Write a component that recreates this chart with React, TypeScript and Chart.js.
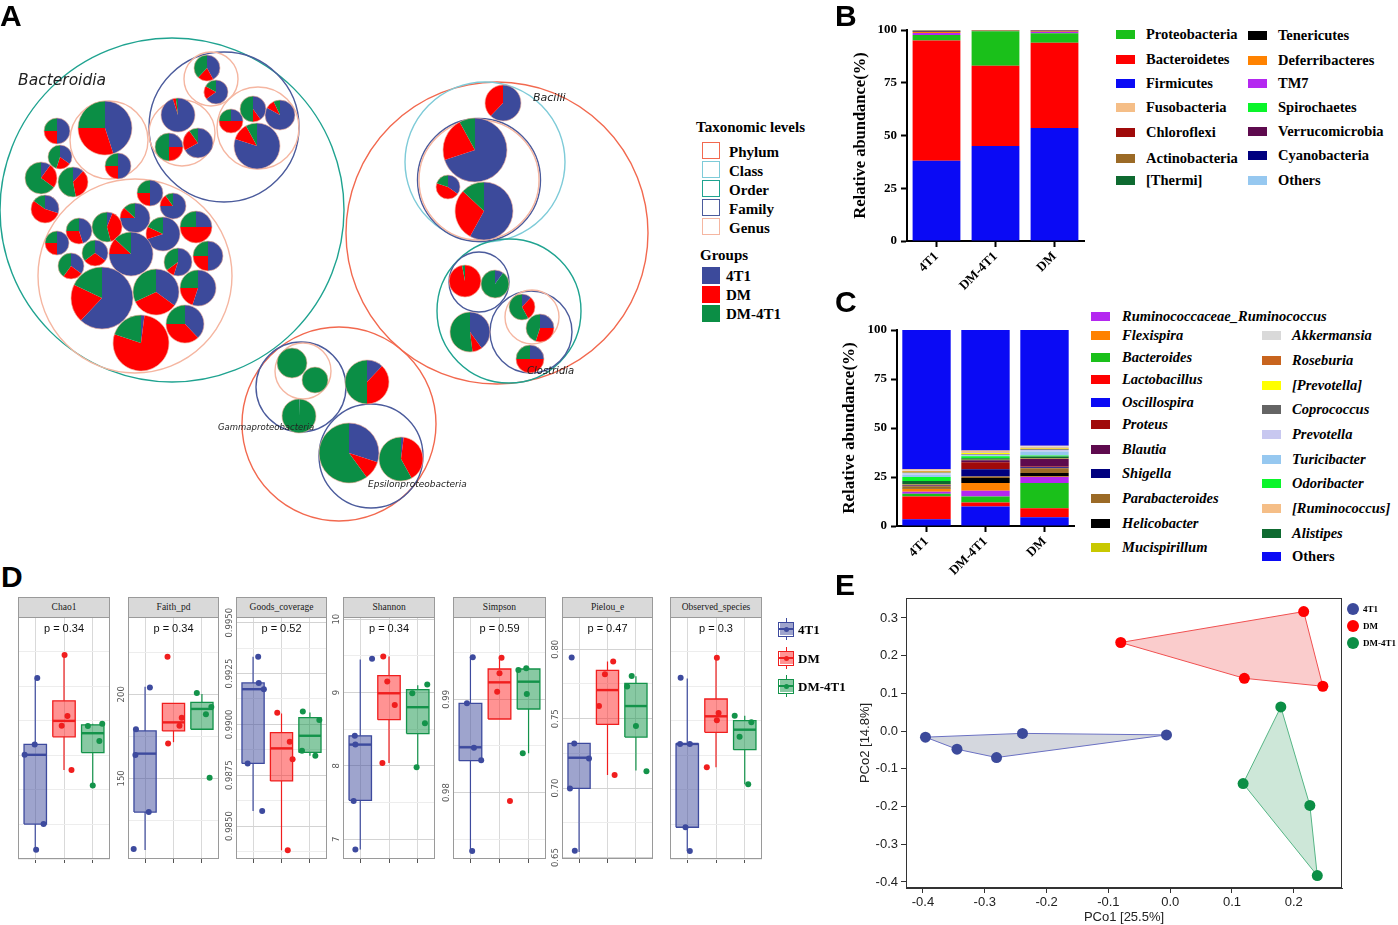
import React, { useEffect, useRef } from "react";
import { Chart, registerables } from "chart.js";

Chart.register(...registerables);

const SERIF = '"Liberation Serif", "Times New Roman", serif';
const SANS = '"Liberation Sans", Arial, sans-serif';
const DEJAVU = '"DejaVu Sans", Verdana, sans-serif';

/* ---------------- shared groups ---------------- */
const GROUPS = ["4T1", "DM", "DM-4T1"];
const GROUP_COLORS = ["#3C4A9B", "#FF0000", "#0B8E45"];

/* ---------------- Panel A : packed circles (x, y, r in chart units) ---------------- */
const A_LEVEL_NAMES = ["Phylum", "Class", "Order", "Family", "Genus"];
const A_LEVEL_COLORS = ["#F2694F", "#7ECBD8", "#1FA390", "#4B5B9C", "#F5B6A1"];
const A_PHYLUM = [[497, 233, 151], [339, 424, 97]];
const A_CLASS = [[485, 162, 80]];
const A_ORDER = [[172, 210, 172], [509, 311, 72]];
const A_FAMILY = [[224, 127, 75], [479, 282, 30], [531, 332, 41], [301, 387, 45], [371, 456, 52], [479, 180, 61.5]];
const A_GENUS = [[211, 79, 27], [182, 133, 33], [258, 128, 41], [109, 140, 39], [135, 276, 97], [479, 180, 60], [532, 317, 27], [303, 371, 28]];
const A_CIRCLES = [A_PHYLUM, A_CLASS, A_ORDER, A_FAMILY, A_GENUS];
// genus pies: x, y, r, share 4T1, share DM, share DM-4T1
const A_PIES = [
  [207, 68, 13, 0.42, 0.2, 0.38], [216, 92, 12, 0.65, 0.18, 0.17], [178, 115, 17, 0.95, 0.03, 0.02],
  [169, 147, 14, 0.25, 0.25, 0.5], [198, 143, 15, 0.67, 0.23, 0.1], [231, 121, 12, 0.25, 0.5, 0.25],
  [253, 109, 13, 0.4, 0.1, 0.5], [280, 115, 15, 0.83, 0.1, 0.07], [257, 146, 23, 0.8, 0.12, 0.08],
  [105, 128, 27, 0.45, 0.3, 0.25], [118, 166, 13, 0.5, 0.25, 0.25],
  [57, 131, 13, 0.5, 0.25, 0.25], [60, 157, 12, 0.35, 0.2, 0.45], [41, 178, 16, 0.1, 0.25, 0.65],
  [73, 182, 15, 0.12, 0.35, 0.53], [45, 209, 14, 0.3, 0.55, 0.15],
  [150, 193, 13, 0.5, 0.25, 0.25], [173, 206, 13, 0.75, 0.15, 0.1], [196, 227, 16, 0.25, 0.5, 0.25],
  [135, 218, 15, 0.75, 0.12, 0.13], [107, 227, 15, 0.06, 0.4, 0.54], [79, 231, 13, 0.45, 0.3, 0.25],
  [57, 243, 12, 0.5, 0.25, 0.25], [163, 234, 17, 0.7, 0.12, 0.18], [95, 253, 13, 0.35, 0.3, 0.35],
  [131, 254, 22, 0.75, 0.12, 0.13], [71, 266, 13, 0.35, 0.25, 0.4], [178, 262, 14, 0.55, 0.1, 0.35],
  [208, 256, 15, 0.5, 0.25, 0.25], [102, 298, 31, 0.62, 0.2, 0.18], [156, 292, 23, 0.35, 0.33, 0.32],
  [198, 288, 18, 0.55, 0.2, 0.25], [141, 343, 28, 0.02, 0.78, 0.2], [185, 324, 19, 0.38, 0.37, 0.25],
  [503, 103, 18, 0.62, 0.38, 0], [475, 150, 32, 0.7, 0.22, 0.08], [448, 187, 12, 0.35, 0.45, 0.2],
  [484, 211, 29, 0.58, 0.29, 0.13],
  [465, 281, 16, 0, 0.97, 0.03], [495, 284, 14, 0.1, 0, 0.9], [470, 332, 20, 0.4, 0.08, 0.52],
  [522, 307, 13, 0.12, 0.3, 0.58], [540, 328, 14, 0.25, 0.3, 0.45], [530, 359, 14, 0.25, 0.5, 0.25],
  [292, 363, 15, 0, 0, 1], [315, 380, 13, 0, 0, 1], [299, 416, 17, 0.005, 0, 0.995],
  [367, 382, 22, 0.12, 0.38, 0.5], [349, 453, 30, 0.3, 0.1, 0.6], [401, 459, 22, 0.02, 0.4, 0.58],
];
const A_CLASS_LABELS = ["Bacteroidia", "Bacilli", "Clostridia", "Gammaproteobacteria", "Epsilonproteobacteria"];
const A_LABEL_AT = [[18, 85], [533, 101], [527, 374], [218, 430], [368, 487]];
const A_LABEL_SIZES = [15.5, 11, 10, 8.5, 9];

/* ---------------- Panel B : phylum composition ---------------- */
const B_CATEGORIES = ["4T1", "DM-4T1", "DM"];
const B_PHYLA = ["Firmicutes", "Bacteroidetes", "Proteobacteria", "TM7", "Deferribacteres", "Verrucomicrobia", "Tenericutes", "Actinobacteria", "Fusobacteria", "Chloroflexi", "[Thermi]", "Spirochaetes", "Cyanobacteria", "Others"];
const B_VALUES = [
  [38, 45, 53.5], [57, 38, 40.5], [2.6, 16.4, 4.5], [1.0, 0.1, 0.6], [0.5, 0.1, 0.2], [0.2, 0.1, 0.4],
  [0.2, 0.05, 0.05], [0.1, 0.05, 0.05], [0.1, 0.02, 0.02], [0.05, 0.02, 0.02], [0.05, 0.02, 0.02],
  [0.05, 0.02, 0.02], [0.05, 0.02, 0.02], [0.1, 0.08, 0.1],
];
const B_COLORS: any = {
  Firmicutes: "#0A0AF5", Bacteroidetes: "#FF0000", Proteobacteria: "#1AC01A", TM7: "#B428F0",
  Deferribacteres: "#FF8200", Verrucomicrobia: "#5E0A4E", Tenericutes: "#000000", Actinobacteria: "#9B6A26",
  Fusobacteria: "#F5BE87", Chloroflexi: "#A00A0A", "[Thermi]": "#0E6A30", Spirochaetes: "#0AF52A",
  Cyanobacteria: "#00007F", Others: "#96C8F0",
};
const B_LEGEND_1 = ["Proteobacteria", "Bacteroidetes", "Firmicutes", "Fusobacteria", "Chloroflexi", "Actinobacteria", "[Thermi]"];
const B_LEGEND_2 = ["Tenericutes", "Deferribacteres", "TM7", "Spirochaetes", "Verrucomicrobia", "Cyanobacteria", "Others"];

/* ---------------- Panel C : genus composition ---------------- */
const C_CATEGORIES = ["4T1", "DM-4T1", "DM"];
const C_GENERA = ["Oscillospira", "Lactobacillus", "Bacteroides", "Ruminococcaceae_Ruminococcus", "Flexispira", "Helicobacter", "Parabacteroides", "Shigella", "Proteus", "Blautia", "Mucispirillum", "Alistipes", "Odoribacter", "Turicibacter", "Prevotella", "Coprococcus", "[Prevotella]", "Roseburia", "Akkermansia", "[Ruminococcus]", "Others"];
const C_VALUES = [
  [3.5, 10, 4.5], [11.5, 2, 4.5], [1.5, 3, 13], [1, 3, 3], [1.5, 4, 0.3], [0.3, 2.5, 1.7], [1, 0.7, 2.5],
  [0.2, 3.8, 0.5], [0.2, 3.5, 0.3], [0.3, 1, 4], [0.3, 0.3, 0.3], [1.7, 0.8, 0.8], [2, 1, 0.6],
  [1.2, 0.5, 2], [0.8, 0.3, 0.8], [0.3, 0.3, 0.3], [0.4, 0.5, 0.4], [0.3, 0.2, 0.4], [0.3, 0.3, 0.6],
  [0.6, 0.8, 0.4], [71.1, 61.5, 59.1],
];
const C_COLORS: any = {
  Oscillospira: "#0A0AF5", Lactobacillus: "#FF0000", Bacteroides: "#1AC01A", Ruminococcaceae_Ruminococcus: "#B428F0",
  Flexispira: "#FF8200", Helicobacter: "#000000", Parabacteroides: "#9B6A26", Shigella: "#00007F",
  Proteus: "#A00A0A", Blautia: "#5E0A4E", Mucispirillum: "#C8C800", Alistipes: "#0E6A30", Odoribacter: "#0AF52A",
  Turicibacter: "#96C8F0", Prevotella: "#C8C8F0", Coprococcus: "#646464", "[Prevotella]": "#FFFF00",
  Roseburia: "#C8641E", Akkermansia: "#D9D9D9", "[Ruminococcus]": "#F5BE87", Others: "#0A0AF5",
};
const C_LEGEND_1 = ["Ruminococcaceae_Ruminococcus", "Flexispira", "Bacteroides", "Lactobacillus", "Oscillospira", "Proteus", "Blautia", "Shigella", "Parabacteroides", "Helicobacter", "Mucispirillum"];
const C_LEGEND_2 = ["Akkermansia", "Roseburia", "[Prevotella]", "Coprococcus", "Prevotella", "Turicibacter", "Odoribacter", "[Ruminococcus]", "Alistipes", "Others"];

/* ---------------- Panel D : alpha diversity ---------------- */
const D_METRICS = ["Chao1", "Faith_pd", "Goods_coverage", "Shannon", "Simpson", "Pielou_e", "Observed_species"];
const D_P_VALUES = ["0.34", "0.34", "0.52", "0.34", "0.59", "0.47", "0.3"];
const D_Y_RANGES = [[1496, 4990], [102, 246], [0.98338, 0.99528], [6.73, 10.03], [0.97289, 0.99882], [0.649, 0.8232], [1304, 4650]];
const D_Y_STEPS = [[500, 1000, 0], [25, 50, 0], [0.00125, 0.0025, 4], [0.5, 1, 0], [0.005, 0.01, 2], [0.025, 0.05, 2], [500, 1000, 0]];
// per group: [lower whisker, Q1, median, Q3, upper whisker]
const CHAO1_STATS = [[1630, 2000, 3000, 3150, 4110], [2780, 3260, 3490, 3780, 4440], [2557, 3032, 3312, 3433, 3448]];
const FAITH_STATS = [[107.3, 129.9, 164.7, 178.2, 204.5], [171.5, 178.2, 183.3, 194.6, 194.6], [179.2, 179.2, 191.3, 195.2, 200.2]];
const GOODS_STATS = [[0.98574, 0.98808, 0.99173, 0.99204, 0.99333], [0.98381, 0.98722, 0.98882, 0.98959, 0.99054], [0.98846, 0.98862, 0.98944, 0.99033, 0.99059]];
const SHANNON_STATS = [[6.86, 7.53, 8.29, 8.41, 9.45], [8.04, 8.63, 8.99, 9.23, 9.49], [7.98, 8.44, 8.8, 9.04, 9.1]];
const SIMPSON_STATS = [[0.97368, 0.98343, 0.98486, 0.98957, 0.99457], [0.98789, 0.98789, 0.99182, 0.99325, 0.99446], [0.98421, 0.98896, 0.99189, 0.99325, 0.99343]];
const PIELOU_STATS = [[0.654, 0.6998, 0.7219, 0.7322, 0.7322], [0.7094, 0.7459, 0.7706, 0.7848, 0.7911], [0.7127, 0.7368, 0.7591, 0.7754, 0.7806]];
const OBSERVED_STATS = [[1413, 1743, 2895, 2895, 3800], [2571, 3055, 3277, 3516, 4087], [2339, 2815, 3092, 3217, 3286]];
// per group: samples [jittered group position, value]
const CHAO1_POINTS = [
  [[1.07, 4110], [0.98, 3150], [0.63, 3000], [1.29, 2000], [1.03, 1630]],
  [[2.02, 4440], [2.12, 3560], [1.92, 3420], [2.26, 2780]],
  [[2.83, 3418], [3.33, 3448], [3.23, 3201], [3.0, 2557]],
];
const FAITH_POINTS = [
  [[1.17, 204], [0.68, 179.2], [0.66, 163.9], [1.13, 129.9], [0.6, 107.9]],
  [[1.79, 222.4], [2.29, 186.1], [2.21, 181.3], [1.81, 170.8]],
  [[2.82, 200.8], [3.33, 192.5], [3.14, 188.1], [3.27, 150.4]],
];
const GOODS_POINTS = [
  [[1.18, 0.99333], [1.2, 0.99204], [1.38, 0.99173], [0.81, 0.98808], [1.32, 0.98574]],
  [[1.85, 0.99057], [2.29, 0.98914], [2.39, 0.98828], [2.22, 0.98381]],
  [[2.75, 0.99063], [3.33, 0.99021], [2.72, 0.9887], [3.19, 0.98846]],
];
const SHANNON_POINTS = [
  [[1.41, 9.46], [0.81, 8.41], [0.83, 8.29], [0.77, 7.52], [0.83, 6.86]],
  [[1.8, 9.49], [1.94, 9.15], [2.2, 8.83], [1.77, 8.04]],
  [[3.33, 9.11], [2.81, 8.99], [3.25, 8.58], [2.96, 7.98]],
];
const SIMPSON_POINTS = [
  [[1.08, 0.99451], [0.88, 0.98957], [1.12, 0.98482], [1.37, 0.98346], [1.06, 0.97375]],
  [[2.07, 0.99446], [2.0, 0.99279], [1.92, 0.99081], [2.36, 0.97911]],
  [[2.65, 0.99314], [2.92, 0.99332], [2.94, 0.99057], [2.8, 0.98421]],
];
const PIELOU_POINTS = [
  [[0.74, 0.794], [0.83, 0.7322], [1.35, 0.7214], [0.68, 0.6998], [0.85, 0.6549]],
  [[2.2, 0.7911], [1.91, 0.782], [1.7, 0.7591], [2.25, 0.7094]],
  [[2.85, 0.7808], [2.69, 0.7731], [3.0, 0.7447], [3.37, 0.7122]],
];
const OBSERVED_POINTS = [
  [[0.77, 3811], [0.75, 2895], [1.09, 2895], [0.94, 1743], [1.09, 1413]],
  [[2.03, 4087], [2.09, 3324], [2.03, 3222], [1.68, 2571]],
  [[2.65, 3286], [3.23, 3195], [2.82, 2993], [3.12, 2339]],
];
const D_STATS = [CHAO1_STATS, FAITH_STATS, GOODS_STATS, SHANNON_STATS, SIMPSON_STATS, PIELOU_STATS, OBSERVED_STATS];
const D_POINTS = [CHAO1_POINTS, FAITH_POINTS, GOODS_POINTS, SHANNON_POINTS, SIMPSON_POINTS, PIELOU_POINTS, OBSERVED_POINTS];

/* ---------------- Panel E : PCoA ---------------- */
const E_4T1 = [[-0.396, -0.016], [-0.239, -0.006], [-0.006, -0.01], [-0.281, -0.07], [-0.345, -0.048]];
const E_DM = [[-0.08, 0.235], [0.216, 0.317], [0.247, 0.119], [0.12, 0.14]];
const E_DM4T1 = [[0.179, 0.064], [0.226, -0.197], [0.238, -0.383], [0.118, -0.139]];
const E_GROUP_POINTS = [E_4T1, E_DM, E_DM4T1];

/* ---------------- styles & layout ---------------- */
const D_FILL = ["rgba(61,74,156,0.5)", "rgba(255,40,40,0.5)", "rgba(17,148,72,0.5)"];
const D_LINE = ["#3D4A9E", "#F01E1E", "#13934A"];
const D_FACET_X = [[18, 92], [128, 91], [236, 91], [343, 92], [453, 93], [562, 91], [670, 92]];
const E_FILL = ["rgba(170,176,190,0.5)", "rgba(240,110,110,0.35)", "rgba(90,175,125,0.3)"];
const E_LINE = ["#6A70C2", "#F05050", "#55B585"];

const BASE: any = {
  animation: false,
  responsive: false,
  events: [],
  plugins: { legend: { display: false }, tooltip: { enabled: false } },
};

function framePlugin(color: string, width: number) {
  return {
    id: "frame",
    afterDraw(chart: any) {
      const { ctx, chartArea: a } = chart;
      ctx.save();
      ctx.strokeStyle = color;
      ctx.lineWidth = width;
      ctx.strokeRect(a.left + 0.5, a.top + 0.5, a.right - a.left - 1, a.bottom - a.top - 1);
      ctx.restore();
    },
  };
}

function makeA() {
  const pies = {
    id: "pies",
    afterDatasetsDraw(chart: any) {
      const { ctx } = chart;
      const xs = chart.scales.x;
      const ys = chart.scales.y;
      const k = Math.abs(xs.getPixelForValue(1) - xs.getPixelForValue(0));
      ctx.save();
      for (const p of A_PIES) {
        const cx = xs.getPixelForValue(p[0]);
        const cy = ys.getPixelForValue(p[1]);
        const r = p[2] * k;
        const shares = p.slice(3);
        const tot = shares.reduce((s, v) => s + v, 0);
        let a0 = -Math.PI / 2;
        shares.forEach((s, i) => {
          if (s <= 0) return;
          const a1 = a0 + (s / tot) * Math.PI * 2;
          ctx.beginPath();
          ctx.moveTo(cx, cy);
          ctx.arc(cx, cy, r, a0, a1);
          ctx.closePath();
          ctx.fillStyle = GROUP_COLORS[i];
          ctx.fill();
          a0 = a1;
        });
        ctx.beginPath();
        ctx.arc(cx, cy, r, 0, Math.PI * 2);
        ctx.lineWidth = 0.7;
        ctx.strokeStyle = "rgba(240,175,155,0.9)";
        ctx.stroke();
      }
      A_CLASS_LABELS.forEach((t, i) => {
        ctx.font = `italic ${A_LABEL_SIZES[i]}px ${DEJAVU}`;
        ctx.fillStyle = "#222";
        ctx.textAlign = "left";
        ctx.textBaseline = "alphabetic";
        ctx.fillText(t, xs.getPixelForValue(A_LABEL_AT[i][0]), ys.getPixelForValue(A_LABEL_AT[i][1]));
      });
      ctx.restore();
    },
  };
  return {
    type: "bubble",
    data: {
      datasets: A_CIRCLES.map((list, li) => ({
        label: A_LEVEL_NAMES[li],
        data: list.map(([x, y, r]) => ({ x, y, r })),
        backgroundColor: "rgba(0,0,0,0)",
        borderColor: A_LEVEL_COLORS[li],
        borderWidth: 1.4,
        clip: false,
        order: 5 - li,
      })),
    },
    options: {
      ...BASE,
      layout: { padding: 0, autoPadding: false },
      scales: {
        x: { type: "linear", min: 0, max: 690, display: false },
        y: { type: "linear", min: 30, max: 535, reverse: true, display: false },
      },
    },
    plugins: [pies],
  };
}

function stackedConfig(labels: string[], names: string[], values: number[][], colors: any, opt: any) {
  const tickFont = { family: SERIF, weight: "bold", size: 13 };
  return {
    type: "bar",
    data: {
      labels,
      datasets: names.map((n, i) => ({
        label: n,
        data: values[i],
        backgroundColor: colors[n],
        borderWidth: 0,
        barPercentage: opt.barPct,
        categoryPercentage: 1,
      })),
    },
    options: {
      ...BASE,
      layout: { padding: { top: 15, right: opt.padRight, left: 0, bottom: 0 }, autoPadding: false },
      scales: {
        x: {
          stacked: true,
          grid: { display: true, offset: false, drawOnChartArea: false, drawTicks: true, tickLength: 6, tickColor: "#000", tickWidth: 2 },
          border: { display: true, color: "#000", width: 2 },
          ticks: { font: tickFont, color: "#000", minRotation: 45, maxRotation: 45, padding: 2 },
          afterFit: (s: any) => { s.height = opt.xH; },
        },
        y: {
          stacked: true,
          min: 0,
          max: 100,
          ticks: { stepSize: 25, font: tickFont, color: "#000", padding: 4 },
          grid: { display: true, drawOnChartArea: false, drawTicks: true, tickLength: 6, tickColor: "#000", tickWidth: 2 },
          border: { display: true, color: "#000", width: 2 },
          title: { display: true, text: "Relative abundance(%)", font: { family: SERIF, weight: "bold", size: opt.titleSize }, color: "#000" },
          afterFit: (s: any) => { s.width = opt.yW; },
        },
      },
    },
  };
}

function makeB() {
  return stackedConfig(B_CATEGORIES, B_PHYLA, B_VALUES, B_COLORS, { barPct: 0.81, padRight: 16, xH: 64, yW: 60, titleSize: 16.5 });
}
function makeC() {
  return stackedConfig(C_CATEGORIES, C_GENERA, C_VALUES, C_COLORS, { barPct: 0.82, padRight: 16, xH: 79, yW: 62, titleSize: 17 });
}

function makeFacet(fi: number) {
  const [min, max] = D_Y_RANGES[fi];
  const [minor, major, dec] = D_Y_STEPS[fi];
  const isMajor = (v: number) => Math.abs(v / major - Math.round(v / major)) < 1e-6;
  const hw = 0.39;
  const datasets: any[] = [];
  D_STATS[fi].forEach((s, g) => {
    const [lo, q1, med, q3, hi] = s;
    const cx = g + 1;
    datasets.push({ type: "scatter", data: D_POINTS[fi][g].map(([x, y]) => ({ x, y })), backgroundColor: D_LINE[g], borderColor: D_LINE[g], pointRadius: 3, borderWidth: 0, order: 0 });
    datasets.push({ type: "line", showLine: true, data: [{ x: cx - hw, y: med }, { x: cx + hw, y: med }], borderColor: D_LINE[g], borderWidth: 2.4, pointRadius: 0, fill: false, order: 1 });
    datasets.push({
      type: "line", showLine: true,
      data: [{ x: cx - hw, y: q1 }, { x: cx + hw, y: q1 }, { x: cx + hw, y: q3 }, { x: cx - hw, y: q3 }, { x: cx - hw, y: q1 }],
      borderColor: D_LINE[g], backgroundColor: D_FILL[g], borderWidth: 1.3, pointRadius: 0, fill: "shape", order: 2,
    });
    datasets.push({
      type: "line", showLine: true,
      data: [{ x: cx, y: lo }, { x: cx, y: q1 }, { x: cx, y: null }, { x: cx, y: q3 }, { x: cx, y: hi }],
      borderColor: D_LINE[g], borderWidth: 1.2, pointRadius: 0, fill: false, spanGaps: false, order: 3,
    });
  });
  const yLabels = {
    id: "ylabels",
    afterDraw(chart: any) {
      const { ctx, chartArea } = chart;
      const ys = chart.scales.y;
      ctx.save();
      ctx.font = `8.5px ${DEJAVU}`;
      ctx.fillStyle = "#555";
      ctx.textAlign = "center";
      ctx.textBaseline = "middle";
      for (const t of ys.ticks) {
        if (!isMajor(t.value)) continue;
        const py = ys.getPixelForValue(t.value);
        ctx.save();
        ctx.translate(chartArea.left - 6, py);
        ctx.rotate(-Math.PI / 2);
        ctx.fillText(Number(t.value).toFixed(dec), 0, 0);
        ctx.restore();
      }
      ctx.restore();
    },
  };
  return {
    type: "scatter",
    data: { datasets },
    options: {
      ...BASE,
      layout: { padding: { top: 22, right: 4, left: 0, bottom: 0 }, autoPadding: false },
      scales: {
        x: {
          type: "linear", min: 0.4, max: 3.6,
          ticks: { stepSize: 1, includeBounds: false, display: false },
          grid: { color: "#D9D9D9", drawTicks: true, tickLength: 4, tickColor: "#555" },
          border: { display: false },
          afterFit: (s: any) => { s.height = 9; },
        },
        y: {
          type: "linear", min, max,
          ticks: { stepSize: minor, includeBounds: false, display: false, maxTicksLimit: 40 },
          grid: { color: (c: any) => (c.tick && isMajor(c.tick.value) ? "#D3D3D3" : "#EDEDED"), drawTicks: false },
          border: { display: false },
          afterFit: (s: any) => { s.width = 18; },
        },
      },
    },
    plugins: [yLabels, framePlugin("#9A9A9A", 1)],
  };
}

function makeE() {
  const datasets: any[] = [];
  E_GROUP_POINTS.forEach((pts, i) => {
    datasets.push({
      type: "line", showLine: true,
      data: [...pts, pts[0]].map(([x, y]) => ({ x, y })),
      borderColor: E_LINE[i], backgroundColor: E_FILL[i], borderWidth: 1, pointRadius: 0, fill: "shape", order: 2,
    });
  });
  E_GROUP_POINTS.forEach((pts, i) => {
    datasets.push({ type: "scatter", label: GROUPS[i], data: pts.map(([x, y]) => ({ x, y })), backgroundColor: GROUP_COLORS[i], borderColor: GROUP_COLORS[i], pointRadius: 5.5, borderWidth: 0, order: 0 });
  });
  const tickFont = { family: SANS, size: 13 };
  return {
    type: "scatter",
    data: { datasets },
    options: {
      ...BASE,
      layout: { padding: { top: 13, right: 8, left: 0, bottom: 0 }, autoPadding: false },
      scales: {
        x: {
          type: "linear", min: -0.4275, max: 0.278,
          ticks: { stepSize: 0.1, includeBounds: false, font: tickFont, color: "#222", padding: 2, callback: (v: any) => Number(v).toFixed(1) },
          grid: { drawOnChartArea: false, drawTicks: true, tickLength: 5, tickColor: "#333" },
          border: { display: true, color: "#333" },
          title: { display: true, text: "PCo1 [25.5%]", font: tickFont, color: "#222", padding: { top: 1, bottom: 0 } },
          afterFit: (s: any) => { s.height = 37; },
        },
        y: {
          type: "linear", min: -0.416, max: 0.353,
          ticks: { stepSize: 0.1, includeBounds: false, font: tickFont, color: "#222", padding: 3, callback: (v: any) => Number(v).toFixed(1) },
          grid: { drawOnChartArea: false, drawTicks: true, tickLength: 5, tickColor: "#333" },
          border: { display: true, color: "#333" },
          title: { display: true, text: "PCo2 [14.8%]", font: tickFont, color: "#222" },
          afterFit: (s: any) => { s.width = 52; },
        },
      },
    },
    plugins: [framePlugin("#333", 1)],
  };
}

/* ---------------- components ---------------- */
function ChartBox({ left, top, width, height, make }: any) {
  const ref = useRef<HTMLCanvasElement | null>(null);
  useEffect(() => {
    const chart = new Chart(ref.current as any, make());
    return () => chart.destroy();
  }, []);
  return <canvas ref={ref} width={width} height={height} style={{ position: "absolute", left, top, width, height }} />;
}

function Txt({ x, y, size, family, bold, italic, color, children, align }: any) {
  const style: any = {
    position: "absolute", top: y - size / 2, lineHeight: `${size}px`, fontSize: size,
    fontFamily: family || SERIF, fontWeight: bold ? "bold" : "normal", fontStyle: italic ? "italic" : "normal",
    color: color || "#000", whiteSpace: "nowrap",
  };
  if (align === "center") { style.left = x - 200; style.width = 400; style.textAlign = "center"; }
  else style.left = x;
  return <div style={style}>{children}</div>;
}

function Swatch({ x, y, w, h, color, border }: any) {
  return (
    <div style={{
      position: "absolute", left: x, top: y - h / 2, width: w, height: h, boxSizing: "border-box",
      background: border ? "transparent" : color, border: border ? `1.5px solid ${color}` : "none",
    }} />
  );
}

const B_ROWS_1 = [34, 59, 83, 107, 132, 158, 180];
const B_ROWS_2 = [35, 60, 83, 107, 131, 155, 180];
const C_ROWS_1 = [316, 335, 357, 379, 402, 424, 449, 473, 498, 523, 547];
const C_ROWS_2 = [335, 360, 385, 409, 434, 459, 483, 508, 533, 556];
const A_TAX_ROWS = [150, 169, 188, 207.5, 226.5];
const A_GROUP_ROWS = [275.5, 294.5, 313.5];
const D_LEG_ROWS = [629, 658, 686];
const E_LEG_ROWS = [609, 626, 643];

export default function App() {
  const letter = (t: string, x: number, y: number) => (
    <div style={{ position: "absolute", left: x, top: y, fontFamily: SANS, fontWeight: "bold", fontSize: 30, lineHeight: "30px", color: "#000" }}>{t}</div>
  );
  return (
    <div style={{ position: "absolute", left: 0, top: 0, width: 1398, height: 925, background: "#fff", overflow: "hidden" }}>
      {/* Panel A */}
      <ChartBox left={0} top={30} width={690} height={505} make={makeA} />
      <Txt x={696} y={127} size={15} bold>Taxonomic levels</Txt>
      {A_LEVEL_NAMES.map((n, i) => (
        <React.Fragment key={n}>
          <Swatch x={702} y={A_TAX_ROWS[i]} w={18} h={17} color={A_LEVEL_COLORS[i]} border />
          <Txt x={729} y={A_TAX_ROWS[i] + 2} size={15} bold>{n}</Txt>
        </React.Fragment>
      ))}
      <Txt x={700} y={255} size={15} bold>Groups</Txt>
      {GROUPS.map((g, i) => (
        <React.Fragment key={g}>
          <Swatch x={702} y={A_GROUP_ROWS[i]} w={18} h={17} color={GROUP_COLORS[i]} />
          <Txt x={726} y={A_GROUP_ROWS[i] + 1} size={15} bold>{g}</Txt>
        </React.Fragment>
      ))}

      {/* Panel B */}
      <ChartBox left={847} top={15} width={253} height={290} make={makeB} />
      {B_LEGEND_1.map((n, i) => (
        <React.Fragment key={n}>
          <Swatch x={1116} y={B_ROWS_1[i]} w={19} h={9} color={B_COLORS[n]} />
          <Txt x={1146} y={B_ROWS_1[i]} size={14.5} bold>{n}</Txt>
        </React.Fragment>
      ))}
      {B_LEGEND_2.map((n, i) => (
        <React.Fragment key={n}>
          <Swatch x={1248} y={B_ROWS_2[i]} w={19} h={9} color={B_COLORS[n]} />
          <Txt x={1278} y={B_ROWS_2[i]} size={14.5} bold>{n}</Txt>
        </React.Fragment>
      ))}

      {/* Panel C */}
      <ChartBox left={835} top={315} width={255} height={290} make={makeC} />
      {C_LEGEND_1.map((n, i) => (
        <React.Fragment key={n}>
          <Swatch x={1091} y={C_ROWS_1[i]} w={19} h={9} color={C_COLORS[n]} />
          <Txt x={1122} y={C_ROWS_1[i]} size={14.5} bold italic>{n}</Txt>
        </React.Fragment>
      ))}
      {C_LEGEND_2.map((n, i) => (
        <React.Fragment key={n}>
          <Swatch x={1262} y={C_ROWS_2[i]} w={19} h={9} color={C_COLORS[n]} />
          <Txt x={1292} y={C_ROWS_2[i]} size={14.5} bold italic={n !== "Others"}>{n}</Txt>
        </React.Fragment>
      ))}

      {/* Panel D */}
      {D_METRICS.map((m, fi) => {
        const [L, W] = D_FACET_X[fi];
        return (
          <React.Fragment key={m}>
            <div style={{
              position: "absolute", left: L, top: 597, width: W, height: 21, boxSizing: "border-box",
              background: "#D9D9D9", border: "1px solid #9A9A9A", fontFamily: SERIF, fontSize: 9.5,
              lineHeight: "19px", textAlign: "center", color: "#1A1A1A",
            }}>{m}</div>
            <ChartBox left={L - 18} top={595} width={W + 22} height={273} make={() => makeFacet(fi)} />
            <Txt x={L + W / 2} y={628} size={11} family={SANS} color="#111" align="center">{`p = ${D_P_VALUES[fi]}`}</Txt>
          </React.Fragment>
        );
      })}
      {GROUPS.map((g, i) => (
        <React.Fragment key={g}>
          <div style={{ position: "absolute", left: 785.5, top: D_LEG_ROWS[i] - 11, width: 1.2, height: 22, background: D_LINE[i] }} />
          <div style={{ position: "absolute", left: 778, top: D_LEG_ROWS[i] - 7.5, width: 16, height: 15, boxSizing: "border-box", background: "#fff", border: `1.5px solid ${D_LINE[i]}` }} />
          <div style={{ position: "absolute", left: 779.5, top: D_LEG_ROWS[i] - 6, width: 13, height: 12, background: D_FILL[i] }} />
          <div style={{ position: "absolute", left: 778, top: D_LEG_ROWS[i] - 1, width: 16, height: 2, background: D_LINE[i] }} />
          <div style={{ position: "absolute", left: 783.5, top: D_LEG_ROWS[i] - 2.5, width: 5, height: 5, borderRadius: "50%", background: D_LINE[i] }} />
          <Txt x={798} y={D_LEG_ROWS[i]} size={13} bold>{g}</Txt>
        </React.Fragment>
      ))}

      {/* Panel E */}
      <ChartBox left={854} top={585} width={496} height={340} make={makeE} />
      {GROUPS.map((g, i) => (
        <React.Fragment key={g}>
          <div style={{ position: "absolute", left: 1347, top: E_LEG_ROWS[i] - 6, width: 12, height: 12, borderRadius: "50%", background: GROUP_COLORS[i] }} />
          <Txt x={1363} y={E_LEG_ROWS[i]} size={9} bold>{g}</Txt>
        </React.Fragment>
      ))}

      {letter("A", 0, 1)}
      {letter("B", 835, 1)}
      {letter("C", 835, 287)}
      {letter("D", 1, 562)}
      {letter("E", 835, 570)}
    </div>
  );
}
